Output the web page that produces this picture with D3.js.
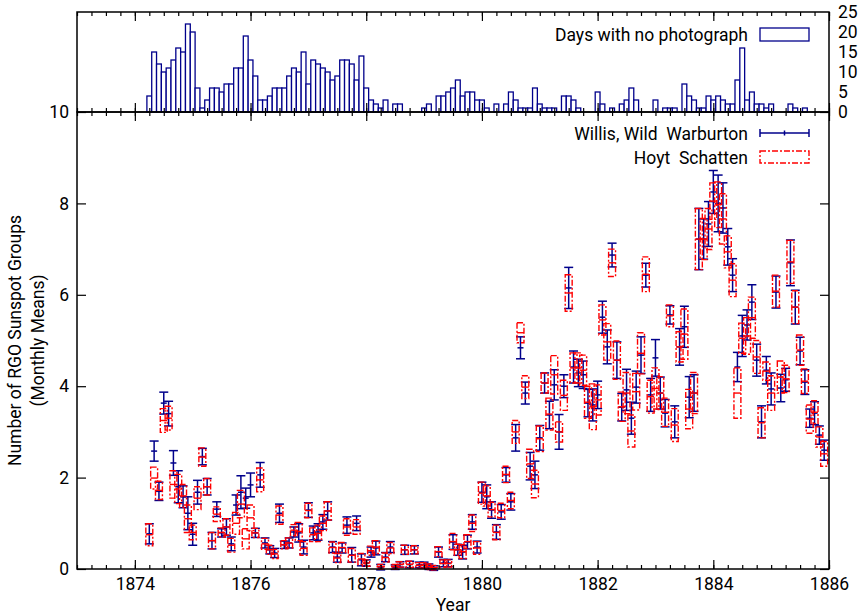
<!DOCTYPE html>
<html>
<head>
<meta charset="utf-8">
<script src="https://cdn.jsdelivr.net/npm/d3@7"></script>
<style>
  body { margin: 0; background: #fff; }
  svg text { font-family: Roboto, "DejaVu Sans", sans-serif; font-size: 17.5px; fill: #000; }
</style>
</head>
<body>
<script>
// monthly series, first month is April 1874
const firstMonth = { year: 1874, month: 4 };

// days per month without a photograph (top panel)
const noPhotoDays = [
  4, 15, 12, 10, 11, 13, 16, 15, 22, 20,
  6, 1, 3, 6, 6, 5, 7, 7, 11, 11,
  19, 13, 9, 3, 3, 4, 6, 6, 6, 9,
  11, 10, 15, 7, 13, 12, 11, 10, 8, 9,
  13, 13, 12, 8, 14, 6, 3, 2, 1, 3,
  0, 2, 2, 0, 0, 0, 0, 1, 2, 0,
  4, 4, 5, 6, 8, 4, 5, 5, 3, 3,
  1, 0, 2, 0, 2, 5, 3, 1, 1, 1,
  6, 2, 1, 1, 1, 0, 4, 4, 3, 1,
  0, 0, 0, 5, 2, 0, 1, 0, 2, 3,
  6, 3, 0, 0, 0, 3, 0, 1, 1, 1,
  0, 7, 4, 3, 1, 1, 4, 3, 4, 3,
  2, 2, 8, 16, 3, 5, 2, 2, 1, 2,
  0, 0, 0, 2, 1, 0, 1, 0, 0, 0, 0
];

// Willis, Wild  Warburton: monthly means and error half-widths
const wwValues = [
  0.77, 2.58, 1.70, 3.63, 3.40, 2.32, 1.80, 1.58, 1.22, 0.76,
  1.68, 2.46, 1.80, 0.62, 1.31, 0.79, 0.92, 0.55, 1.40, 1.68,
  1.55, 1.84, 0.79, 2.06, 0.57, 0.42, 0.35, 1.22, 0.53, 0.57,
  0.81, 0.79, 0.48, 1.29, 0.79, 0.81, 1.03, 1.27, 0.48, 0.26,
  0.46, 0.96, 0.31, 1.00, 0.20, 0.13, 0.37, 0.46, 0.04, 0.26,
  0.48, 0.04, 0.10, 0.42, 0.10, 0.42, 0.09, 0.09, 0.05, 0.02,
  0.37, 0.13, 0.13, 0.59, 0.42, 0.37, 0.59, 1.03, 0.48, 1.68,
  1.58, 1.29, 0.81, 1.25, 2.06, 1.47, 2.87, 4.84, 3.85, 2.25,
  2.06, 2.87, 4.07, 3.37, 4.03, 3.00, 4.00, 6.15, 4.42, 4.29,
  4.25, 3.63, 3.59, 3.81, 5.51, 4.86, 6.87, 4.57, 3.54, 3.92,
  3.30, 3.98, 4.68, 6.43, 3.81, 4.62, 3.85, 3.41, 5.56, 3.22,
  4.86, 5.30, 3.76, 3.85, 7.22, 7.22, 7.55, 8.25, 8.00, 7.90,
  7.05, 6.43, 4.42, 5.10, 5.34, 5.84, 4.57, 3.22, 4.35, 3.94,
  6.06, 3.96, 4.14, 6.70, 5.73, 4.77, 4.09, 3.30, 3.41, 2.93,
  2.60
];
const wwErrors = [
  0.22, 0.22, 0.20, 0.24, 0.27, 0.27, 0.35, 0.24, 0.36, 0.24,
  0.26, 0.18, 0.18, 0.18, 0.16, 0.09, 0.18, 0.15, 0.22, 0.36,
  0.22, 0.26, 0.10, 0.27, 0.11, 0.09, 0.10, 0.20, 0.08, 0.11,
  0.11, 0.20, 0.15, 0.16, 0.15, 0.18, 0.16, 0.20, 0.12, 0.11,
  0.11, 0.18, 0.16, 0.16, 0.13, 0.07, 0.11, 0.15, 0.06, 0.10,
  0.12, 0.05, 0.06, 0.10, 0.07, 0.09, 0.06, 0.06, 0.06, 0.05,
  0.11, 0.08, 0.08, 0.16, 0.12, 0.15, 0.15, 0.16, 0.13, 0.22,
  0.26, 0.18, 0.16, 0.16, 0.16, 0.18, 0.29, 0.24, 0.24, 0.30,
  0.30, 0.27, 0.22, 0.30, 0.33, 0.38, 0.25, 0.45, 0.35, 0.30,
  0.30, 0.30, 0.35, 0.30, 0.35, 0.37, 0.26, 0.40, 0.30, 0.45,
  0.35, 0.35, 0.40, 0.26, 0.36, 0.40, 0.35, 0.30, 0.20, 0.35,
  0.40, 0.45, 0.45, 0.40, 0.67, 0.44, 0.49, 0.47, 0.62, 0.55,
  0.40, 0.36, 0.32, 0.45, 0.33, 0.38, 0.35, 0.35, 0.30, 0.35,
  0.35, 0.30, 0.25, 0.50, 0.37, 0.30, 0.27, 0.20, 0.25, 0.20,
  0.22
];

// Hoyt  Schatten: monthly means and error half-widths
const hsValues = [
  0.75, 1.99, 1.72, 3.25, 3.30, 1.85, 1.75, 1.60, 1.10, 0.80,
  1.55, 2.45, 1.80, 0.62, 1.20, 0.80, 0.92, 0.52, 1.00, 1.42,
  0.66, 1.12, 0.79, 1.95, 0.55, 0.42, 0.33, 1.18, 0.53, 0.57,
  0.85, 0.82, 0.45, 1.28, 0.75, 0.78, 1.00, 1.27, 0.47, 0.24,
  0.47, 0.92, 0.30, 0.92, 0.22, 0.13, 0.40, 0.48, 0.05, 0.25,
  0.46, 0.05, 0.10, 0.42, 0.10, 0.42, 0.08, 0.08, 0.05, 0.03,
  0.38, 0.12, 0.12, 0.60, 0.42, 0.38, 0.60, 1.00, 0.46, 1.66,
  1.60, 1.30, 0.80, 1.28, 2.07, 1.50, 3.00, 5.17, 3.98, 2.30,
  1.86, 2.85, 4.07, 3.39, 4.25, 3.00, 3.80, 6.04, 4.40, 4.40,
  4.35, 3.65, 3.55, 3.70, 5.45, 4.97, 6.70, 4.57, 3.55, 3.85,
  3.02, 3.88, 4.72, 6.45, 3.77, 3.95, 3.85, 3.43, 5.54, 3.15,
  4.86, 5.14, 3.50, 3.85, 7.22, 7.22, 7.44, 8.05, 7.97, 7.66,
  6.94, 6.32, 3.85, 5.05, 5.10, 5.50, 4.64, 3.20, 4.33, 3.85,
  6.08, 4.20, 4.16, 6.72, 5.73, 4.79, 4.11, 3.28, 3.43, 2.89,
  2.52
];
const hsErrors = [
  0.24, 0.24, 0.20, 0.26, 0.26, 0.30, 0.32, 0.25, 0.30, 0.16,
  0.25, 0.20, 0.18, 0.18, 0.16, 0.10, 0.18, 0.15, 0.24, 0.30,
  0.22, 0.28, 0.10, 0.26, 0.12, 0.10, 0.10, 0.20, 0.09, 0.11,
  0.12, 0.20, 0.15, 0.16, 0.15, 0.18, 0.16, 0.20, 0.12, 0.10,
  0.11, 0.18, 0.15, 0.16, 0.12, 0.07, 0.10, 0.14, 0.05, 0.10,
  0.12, 0.05, 0.06, 0.10, 0.07, 0.09, 0.06, 0.06, 0.06, 0.05,
  0.11, 0.08, 0.08, 0.18, 0.12, 0.15, 0.15, 0.18, 0.14, 0.24,
  0.22, 0.16, 0.16, 0.16, 0.18, 0.18, 0.25, 0.22, 0.25, 0.32,
  0.30, 0.28, 0.22, 0.35, 0.42, 0.22, 0.33, 0.40, 0.33, 0.33,
  0.33, 0.35, 0.50, 0.33, 0.33, 0.40, 0.30, 0.42, 0.32, 0.45,
  0.35, 0.40, 0.45, 0.38, 0.36, 0.45, 0.36, 0.31, 0.24, 0.36,
  0.33, 0.55, 0.43, 0.45, 0.67, 0.45, 0.45, 0.40, 0.50, 0.55,
  0.35, 0.36, 0.55, 0.33, 0.40, 0.45, 0.36, 0.33, 0.20, 0.38,
  0.35, 0.35, 0.30, 0.47, 0.36, 0.33, 0.27, 0.31, 0.25, 0.22,
  0.27
];

const yearTicks = [1874, 1876, 1878, 1880, 1882, 1884, 1886];
const groupTicks = [0, 2, 4, 6, 8, 10];
const dayTicks = [0, 5, 10, 15, 20, 25];

const width = 861, height = 615;
const left = 77, right = 829, topPanelTop = 12, mainTop = 112, mainBottom = 569;
const blue = '#00008b', red = '#ff0000';
const dashDot = '6,2,2,2';

const x = d3.scaleLinear().domain([1873, 1886]).range([left, right]);
const y = d3.scaleLinear().domain([0, 10]).range([mainBottom, mainTop]);
const yDays = d3.scaleLinear().domain([0, 25]).range([mainTop, topPanelTop]);
const quarterTicks = d3.range(1873, 1886.001, 0.25);

const months = wwValues.map((v, k) => firstMonth.year + (firstMonth.month - 1 + k) / 12);
const rows = months.map((t, k) => ({
  t, days: noPhotoDays[k],
  ww: wwValues[k], wwErr: wwErrors[k],
  hs: hsValues[k], hsErr: hsErrors[k]
}));

const svg = d3.select('body').append('svg')
  .attr('width', width)
  .attr('height', height);

// ---- top panel: days with no photograph
svg.append('g')
  .selectAll('rect')
  .data(rows.filter(d => d.days > 0))
  .join('rect')
  .attr('x', d => x(d.t - 1 / 24))
  .attr('width', d => x(d.t + 1 / 24) - x(d.t - 1 / 24))
  .attr('y', d => yDays(d.days))
  .attr('height', d => yDays(0) - yDays(d.days))
  .style('fill', '#fff')
  .style('stroke', blue)
  .style('stroke-width', 1.3);

// ---- main panel: Willis, Wild  Warburton error bars
const ww = svg.append('g').style('stroke', blue).style('stroke-width', 1.5);
const wwBars = ww.selectAll('g').data(rows).join('g');
wwBars.append('line')
  .attr('x1', d => x(d.t)).attr('x2', d => x(d.t))
  .attr('y1', d => y(d.ww - d.wwErr)).attr('y2', d => y(d.ww + d.wwErr));
[-1, 1].forEach(s => {
  wwBars.append('line')
    .attr('x1', d => x(d.t) - 4.5).attr('x2', d => x(d.t) + 4.5)
    .attr('y1', d => y(d.ww + s * d.wwErr)).attr('y2', d => y(d.ww + s * d.wwErr));
});
wwBars.append('line')
  .attr('x1', d => x(d.t) - 3).attr('x2', d => x(d.t) + 3)
  .attr('y1', d => y(d.ww)).attr('y2', d => y(d.ww));

// ---- Hoyt  Schatten dash-dot boxes
const hs = svg.append('g')
  .style('stroke', red)
  .style('stroke-width', 1.4)
  .style('fill', 'none');
const hsBars = hs.selectAll('g').data(rows).join('g');
hsBars.append('rect')
  .attr('x', d => x(d.t - 0.06))
  .attr('width', d => x(d.t + 0.06) - x(d.t - 0.06))
  .attr('y', d => y(d.hs + d.hsErr))
  .attr('height', d => y(d.hs - d.hsErr) - y(d.hs + d.hsErr))
  .style('stroke-dasharray', dashDot);
hsBars.append('line')
  .attr('x1', d => x(d.t - 0.06)).attr('x2', d => x(d.t + 0.06))
  .attr('y1', d => y(d.hs)).attr('y2', d => y(d.hs));

// ---- axes and ticks
function ticks(axis, pos, size, values) {
  const g = svg.append('g')
    .attr('transform', pos)
    .call(axis.tickValues(values).tickSize(size).tickFormat(''));
  g.select('.domain').remove();
  g.selectAll('line').attr('stroke', '#000').attr('stroke-width', 1.2);
  return g;
}

// x ticks: bottom of main, both sides of the shared line, top of top panel
ticks(d3.axisBottom(x), `translate(0,${mainBottom})`, -4, quarterTicks);
ticks(d3.axisTop(x), `translate(0,${mainTop})`, -4, quarterTicks);
ticks(d3.axisBottom(x), `translate(0,${mainTop})`, -4, quarterTicks);
ticks(d3.axisTop(x), `translate(0,${topPanelTop})`, -4, quarterTicks);
ticks(d3.axisTop(x), `translate(0,${mainTop})`, -9, yearTicks);
ticks(d3.axisBottom(x), `translate(0,${mainTop})`, -9, yearTicks);
ticks(d3.axisTop(x), `translate(0,${topPanelTop})`, -9, yearTicks);
ticks(d3.axisRight(y), `translate(${right},0)`, -9, groupTicks);

const xAxis = svg.append('g')
  .attr('transform', `translate(0,${mainBottom})`)
  .call(d3.axisBottom(x).tickValues(yearTicks).tickSize(-9).tickPadding(9).tickFormat(d3.format('d')));
const yAxis = svg.append('g')
  .attr('transform', `translate(${left},0)`)
  .call(d3.axisLeft(y).tickValues(groupTicks).tickSize(-9).tickPadding(8).tickFormat(d3.format('d')));
const dayAxis = svg.append('g')
  .attr('transform', `translate(${right},0)`)
  .call(d3.axisRight(yDays).tickValues(dayTicks).tickSize(0).tickPadding(9).tickFormat(d3.format('d')));
[xAxis, yAxis, dayAxis].forEach(g => {
  g.select('.domain').remove();
  g.attr('font-size', null).attr('font-family', null);
  g.selectAll('line').attr('stroke', '#000').attr('stroke-width', 1.2);
  g.selectAll('text').style('font-size', '17.5px');
});

// frames
[[topPanelTop, mainTop], [mainTop, mainBottom]].forEach(([a, b]) => {
  svg.append('rect')
    .attr('x', left).attr('y', a)
    .attr('width', right - left).attr('height', b - a)
    .style('fill', 'none')
    .style('stroke', '#000')
    .style('stroke-width', 1.5);
});

// axis titles
svg.append('text')
  .attr('x', (left + right) / 2).attr('y', 611)
  .attr('text-anchor', 'middle')
  .text('Year');
[['Number of RGO Sunspot Groups', 15], ['(Monthly Means)', 38]].forEach(([label, px]) => {
  svg.append('text')
    .attr('transform', `translate(${px},${(mainTop + mainBottom) / 2}) rotate(-90)`)
    .attr('text-anchor', 'middle')
    .attr('dominant-baseline', 'central')
    .text(label);
});

// ---- legends
const legend = svg.append('g');
function legendLabel(label, ly) {
  legend.append('text')
    .attr('x', 748).attr('y', ly)
    .attr('text-anchor', 'end')
    .attr('dominant-baseline', 'central')
    .style('white-space', 'pre')
    .text(label);
}

legendLabel('Days with no photograph', 35);
legend.append('rect')
  .attr('x', 760).attr('y', 28).attr('width', 49).attr('height', 13)
  .style('fill', '#fff').style('stroke', blue).style('stroke-width', 1.3);

legendLabel('Willis, Wild  Warburton', 134);
const wwKey = legend.append('g').style('stroke', blue).style('stroke-width', 1.5);
wwKey.append('line').attr('x1', 760).attr('x2', 809).attr('y1', 133).attr('y2', 133);
[760, 809].forEach(px => wwKey.append('line').attr('x1', px).attr('x2', px).attr('y1', 129).attr('y2', 137));
wwKey.append('line').attr('x1', 784.5).attr('x2', 784.5).attr('y1', 130.5).attr('y2', 135.5);

legendLabel('Hoyt  Schatten', 158);
legend.append('rect')
  .attr('x', 760).attr('y', 151).attr('width', 49).attr('height', 12)
  .style('fill', 'none').style('stroke', red).style('stroke-width', 1.4)
  .style('stroke-dasharray', dashDot);
</script>
</body>
</html>
